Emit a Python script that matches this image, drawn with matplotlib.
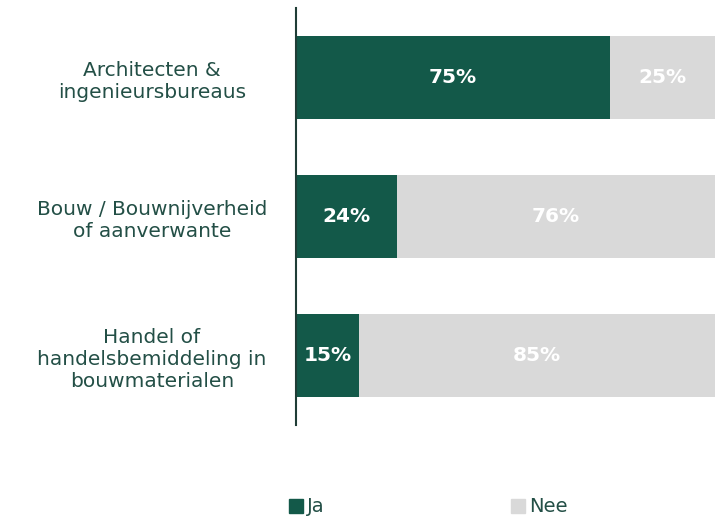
import matplotlib
matplotlib.use("Agg")
import matplotlib.pyplot as plt
from matplotlib.patches import Patch

categories = ["Architecten &\ningenieursbureaus",
              "Bouw / Bouwnijverheid\nof aanverwante",
              "Handel of\nhandelsbemiddeling in\nbouwmaterialen"]
ja = [75, 24, 15]
nee = [25, 76, 85]
series_names = ["Ja", "Nee"]

green = "#135949"
grey = "#d9d9d9"
txt = "#234f46"

plt.rcParams['font.family'] = ['DejaVu Sans']

fig = plt.figure(figsize=(7.15, 5.16), dpi=100)
ax = fig.add_axes([296/715, 1-425/516, 1-296/715, (425-8)/516])

y = list(range(len(categories)))
ax.barh(y, ja, height=0.6, color=green, label=series_names[0])
ax.barh(y, nee, left=ja, height=0.6, color=grey, label=series_names[1])

for i in y:
    ax.text(ja[i]/2, i, f"{ja[i]}%", ha="center", va="center", color="white",
            fontsize=14.5, fontweight="bold")
    ax.text(ja[i] + nee[i]/2, i, f"{nee[i]}%", ha="center", va="center", color="white",
            fontsize=14.5, fontweight="bold")

ax.set_xlim(0, 100)
ax.set_ylim(2.5, -0.5)
ax.set_yticks(y)
ax.set_yticklabels(categories, fontsize=14.5, color=txt, ha="center",
                   linespacing=1.2)
ax.tick_params(axis="y", length=0, pad=(296-152)*0.72)
ax.set_xticks([])
for s in ["top", "right", "bottom"]:
    ax.spines[s].set_visible(False)
ax.spines["left"].set_color("#1f3d36")
ax.spines["left"].set_linewidth(1.5)

handles = [Patch(color=green), Patch(color=grey)]
fig.legend(handles, series_names, loc="center", bbox_to_anchor=(0.599, 1-507/516),
           ncol=2, frameon=False, fontsize=14, handlelength=0.7, handleheight=0.7,
           handletextpad=0.2, columnspacing=9.6, labelcolor=txt)

fig.savefig("out.png", dpi=100)
